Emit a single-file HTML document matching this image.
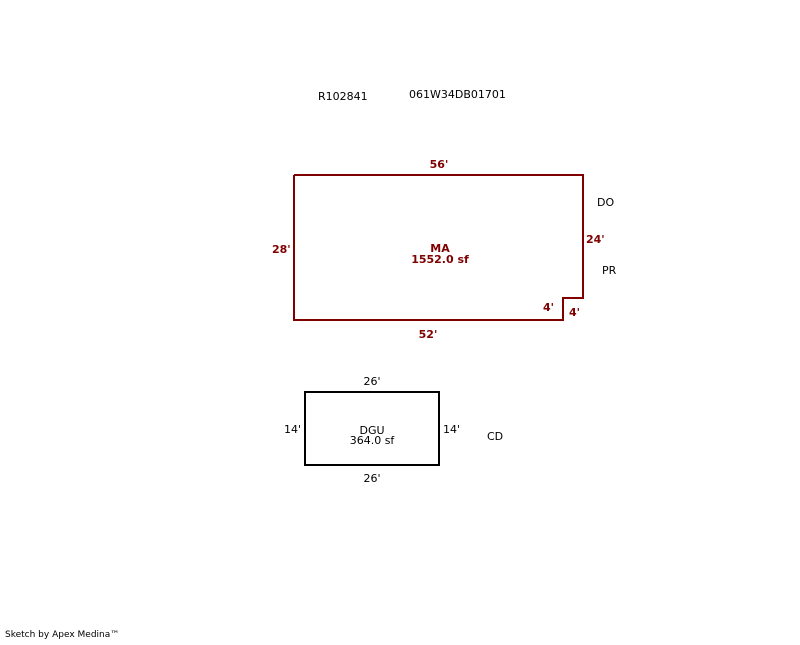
<!DOCTYPE html>
<html><head><style>
body{margin:0;background:#fff;}
svg text{font-family:"DejaVu Sans","Liberation Sans",sans-serif;font-size:11px;}
.r{fill:#800000;font-weight:bold;}
</style></head><body>
<svg width="800" height="640" xmlns="http://www.w3.org/2000/svg">
<text x="318" y="100">R102841</text>
<text x="409" y="98">061W34DB01701</text>
<polyline points="294,175 583,175 583,298 563,298 563,320 294,320 294,175" fill="none" stroke="#800000" stroke-width="2"/>
<text class="r" x="439" y="168" text-anchor="middle">56'</text>
<text class="r" x="272" y="253">28'</text>
<text class="r" x="586" y="243">24'</text>
<text class="r" x="428" y="338" text-anchor="middle">52'</text>
<text class="r" x="543" y="311">4'</text>
<text class="r" x="569" y="316">4'</text>
<text class="r" x="440" y="252" text-anchor="middle">MA</text>
<text class="r" x="440" y="263" text-anchor="middle">1552.0 sf</text>
<text x="597" y="206">DO</text>
<text x="602" y="274">PR</text>
<rect x="305" y="392" width="134" height="73" fill="none" stroke="#000" stroke-width="2"/>
<text x="372" y="385" text-anchor="middle">26'</text>
<text x="372" y="482" text-anchor="middle">26'</text>
<text x="284" y="433">14'</text>
<text x="443" y="433">14'</text>
<text x="372" y="434" text-anchor="middle">DGU</text>
<text x="372" y="444" text-anchor="middle">364.0 sf</text>
<text x="487" y="440">CD</text>
<text x="5" y="637" style="font-size:9px">Sketch by Apex Medina™</text>
</svg>
</body></html>
